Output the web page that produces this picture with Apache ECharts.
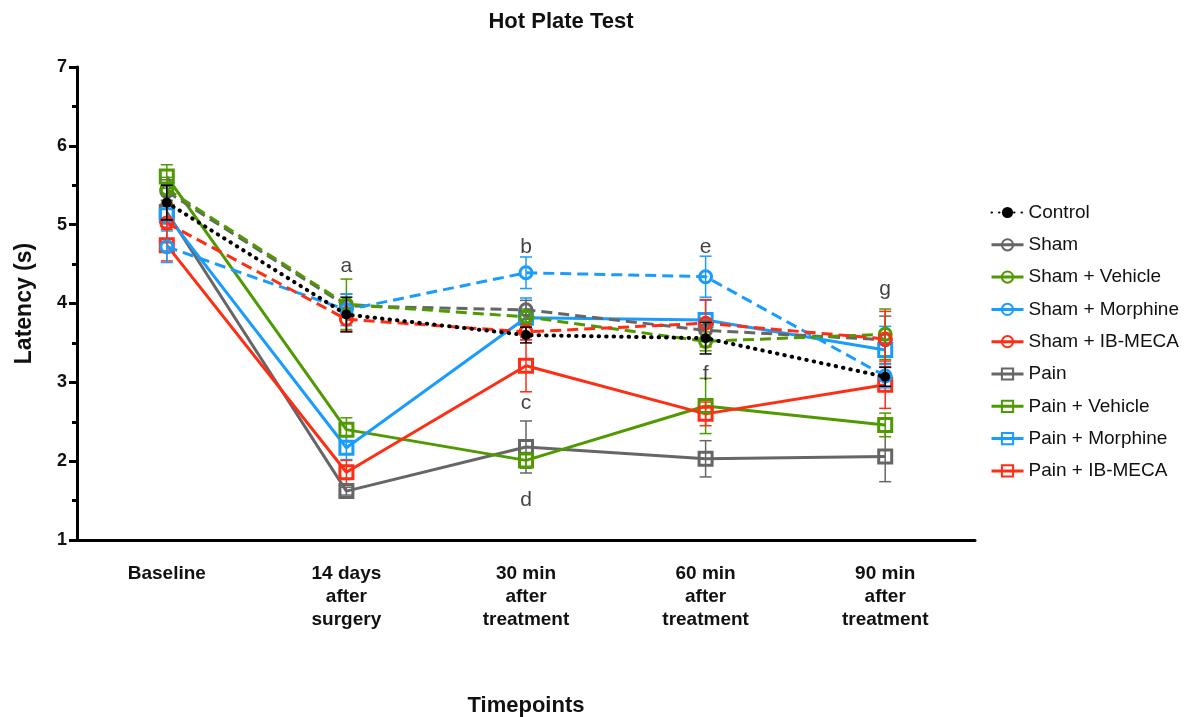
<!DOCTYPE html>
<html>
<head>
<meta charset="utf-8">
<script src="https://cdn.jsdelivr.net/npm/echarts@6/dist/echarts.min.js"></script>
<style>
html,body{margin:0;padding:0;background:#fff;}
#chart{width:1196px;height:717px;}
</style>
</head>
<body>
<div id="chart"></div>
<script>
const categories = ['Baseline', '14 days\nafter\nsurgery', '30 min\nafter\ntreatment', '60 min\nafter\ntreatment', '90 min\nafter\ntreatment'];
const yTicks = [1, 2, 3, 4, 5, 6, 7];

const control      = [5.28, 3.86, 3.60, 3.56, 3.07];
const sham         = [5.42, 3.97, 3.92, 3.66, 3.54];
const shamVehicle  = [5.45, 3.99, 3.83, 3.52, 3.61];
const shamMorphine = [4.72, 3.92, 4.39, 4.34, 3.08];
const shamIBMECA   = [5.02, 3.80, 3.64, 3.75, 3.55];
const pain         = [5.16, 1.62, 2.18, 2.03, 2.06];
const painVehicle  = [5.61, 2.40, 2.01, 2.70, 2.46];
const painMorphine = [5.12, 2.17, 3.82, 3.79, 3.41];
const painIBMECA   = [4.74, 1.86, 3.21, 2.60, 2.97];

const controlErr      = [0.22, 0.22, 0.10, 0.20, 0.12];
const shamErr         = [0.15, 0.15, 0.12, 0.12, 0.30];
const shamVehicleErr  = [0.15, 0.32, 0.10, 0.12, 0.32];
const shamMorphineErr = [0.20, 0.20, 0.20, 0.26, 0.15];
const shamIBMECAErr   = [0.25, 0.15, 0.10, 0.30, 0.35];
const painErr         = [0.15, 0.05, 0.33, 0.23, 0.32];
const painVehicleErr  = [0.15, 0.15, 0.10, 0.35, 0.15];
const painMorphineErr = [0.15, 0.15, 0.25, 0.25, 0.30];
const painIBMECAErr   = [0.20, 0.15, 0.33, 0.15, 0.30];

const letters     = ['a', 'b', 'c', 'd', 'e', 'f', 'g'];
const letterCat   = [1, 2, 2, 2, 3, 3, 4];
const letterValue = [4.47, 4.71, 2.74, 1.51, 4.71, 3.10, 4.18];

const GREY = '#666666', GREEN = '#4f9a00', BLUE = '#1a9cff', RED = '#ff2d14', BLACK = '#000000';

const defs = [
  {name: 'Control', data: control, err: controlErr, color: BLACK, kind: 'dot'},
  {name: 'Sham', data: sham, err: shamErr, color: GREY, kind: 'dash'},
  {name: 'Sham + Vehicle', data: shamVehicle, err: shamVehicleErr, color: GREEN, kind: 'dash'},
  {name: 'Sham + Morphine', data: shamMorphine, err: shamMorphineErr, color: BLUE, kind: 'dash'},
  {name: 'Sham + IB-MECA', data: shamIBMECA, err: shamIBMECAErr, color: RED, kind: 'dash'},
  {name: 'Pain', data: pain, err: painErr, color: GREY, kind: 'solid'},
  {name: 'Pain + Vehicle', data: painVehicle, err: painVehicleErr, color: GREEN, kind: 'solid'},
  {name: 'Pain + Morphine', data: painMorphine, err: painMorphineErr, color: BLUE, kind: 'solid'},
  {name: 'Pain + IB-MECA', data: painIBMECA, err: painIBMECAErr, color: RED, kind: 'solid'}
];

const FONT = 'Liberation Sans, Arial, Helvetica, sans-serif';
const series = [];
defs.forEach((d, i) => {
  const z = d.kind === 'dot' ? 20 : (d.kind === 'dash' ? 6 : 4);
  let lineStyle, symbol, symbolSize, itemStyle;
  if (d.kind === 'dot') {
    lineStyle = {color: BLACK, width: 4, type: [0.5, 7], cap: 'round'};
    symbol = 'circle'; symbolSize = 10;
    itemStyle = {color: BLACK};
  } else if (d.kind === 'dash') {
    lineStyle = {color: d.color, width: 3, type: [11, 6]};
    symbol = 'circle'; symbolSize = 12;
    itemStyle = {color: 'rgba(255,255,255,0)', borderColor: d.color, borderWidth: 3};
  } else {
    lineStyle = {color: d.color, width: 3, type: 'solid'};
    symbol = 'rect'; symbolSize = 13;
    itemStyle = {color: 'rgba(255,255,255,0)', borderColor: d.color, borderWidth: 3};
  }
  series.push({
    type: 'line',
    name: d.name,
    z: z,
    data: d.data,
    symbol: symbol,
    symbolSize: symbolSize,
    showAllSymbol: true,
    lineStyle: lineStyle,
    itemStyle: itemStyle,
    emphasis: {disabled: true},
    animation: false
  });
  // error bars
  series.push({
    type: 'custom',
    name: d.name + ' SEM',
    z: z - 1,
    silent: true,
    data: d.data.map((v, k) => [k, v - d.err[k], v + d.err[k]]),
    renderItem: function (params, api) {
      const lo = api.coord([api.value(0), api.value(1)]);
      const hi = api.coord([api.value(0), api.value(2)]);
      const hw = 6;
      const st = {stroke: d.color, lineWidth: 1.5};
      return {
        type: 'group',
        children: [
          {type: 'line', shape: {x1: lo[0], y1: lo[1], x2: hi[0], y2: hi[1]}, style: st},
          {type: 'line', shape: {x1: lo[0] - hw, y1: lo[1], x2: lo[0] + hw, y2: lo[1]}, style: st},
          {type: 'line', shape: {x1: hi[0] - hw, y1: hi[1], x2: hi[0] + hw, y2: hi[1]}, style: st}
        ]
      };
    }
  });
});

series.push({
  type: 'scatter',
  name: 'letters',
  z: 30,
  symbolSize: 1,
  itemStyle: {color: 'rgba(0,0,0,0)'},
  data: letters.map((l, i) => ({name: l, value: [letterCat[i], letterValue[i]]})),
  label: {show: true, position: 'inside', formatter: p => p.name, fontSize: 21, color: '#111', fontFamily: FONT},
  silent: true,
  animation: false
});

const chart = echarts.init(document.getElementById('chart'));
chart.setOption({
  animation: false,
  backgroundColor: '#ffffff',
  title: {
    text: 'Hot Plate Test',
    left: 556, top: 6, textAlign: 'center',
    textStyle: {fontFamily: FONT, fontWeight: 'bold', fontSize: 22, color: '#111'}
  },
  legend: {
    orient: 'vertical',
    left: 985, top: 198,
    itemWidth: 32, itemHeight: 14, itemGap: 13.3,
    textStyle: {fontFamily: FONT, fontSize: 19, color: '#111'},
    data: defs.map(d => ({
      name: d.name,
      lineStyle: d.kind === 'dot' ? undefined : {type: 'solid', width: 3}
    })),
    selectedMode: false
  },
  grid: {left: 77, right: 221, top: 67, bottom: 177, containLabel: false, outerBoundsMode: 'none'},
  xAxis: {
    type: 'category',
    data: categories,
    boundaryGap: true,
    name: 'Timepoints',
    nameLocation: 'middle',
    nameGap: 155,
    nameTextStyle: {fontFamily: FONT, fontWeight: 'bold', fontSize: 22, color: '#111'},
    axisLine: {lineStyle: {color: '#000', width: 3}},
    axisTick: {alignWithLabel: true, length: 8, lineStyle: {color: '#000', width: 3}},
    axisLabel: {fontFamily: FONT, fontWeight: 'bold', fontSize: 19, color: '#111', lineHeight: 23, margin: 22, interval: 0},
    splitLine: {show: false}
  },
  yAxis: {
    type: 'value',
    min: yTicks[0], max: yTicks[yTicks.length - 1], interval: 1,
    name: 'Latency (s)',
    nameLocation: 'middle',
    nameGap: 41,
    nameTextStyle: {fontFamily: FONT, fontWeight: 'bold', fontSize: 23, color: '#111'},
    axisLine: {show: true, lineStyle: {color: '#000', width: 3}},
    axisTick: {show: true, length: 8, lineStyle: {color: '#000', width: 3}},
    minorTick: {show: true, splitNumber: 2, length: 5, lineStyle: {color: '#000', width: 3}},
    axisLabel: {fontFamily: FONT, fontWeight: 'bold', fontSize: 18, color: '#111', margin: 10},
    splitLine: {show: false}
  },
  series: series
});
</script>
</body>
</html>
